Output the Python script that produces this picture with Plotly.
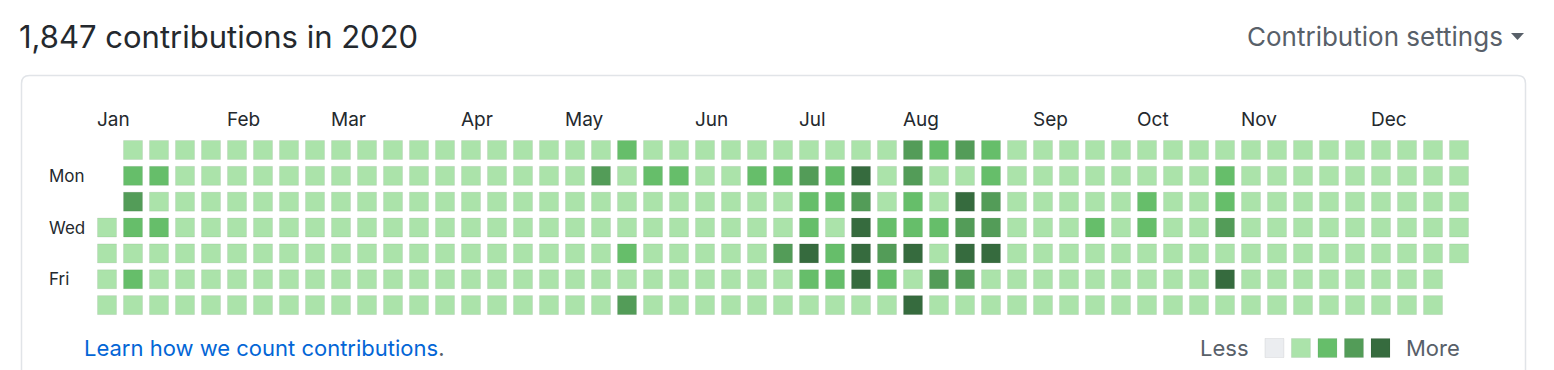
import plotly.graph_objects as go

W, H = 1554, 370

TITLE = "1,847 contributions in 2020"
SETTINGS = "Contribution settings"
LEARN = "Learn how we count contributions"
MONTHS = ["Jan", "Feb", "Mar", "Apr", "May", "Jun", "Jul", "Aug", "Sep", "Oct", "Nov", "Dec"]
MONTH_WEEK = [0, 5, 9, 14, 18, 23, 27, 31, 36, 40, 44, 49]
WEEKDAYS = ["Sun", "Mon", "Tue", "Wed", "Thu", "Fri", "Sat"]
WEEKDAY_SHOWN = ["Mon", "Wed", "Fri"]
LEVEL_COLORS = ["#ebedf0", "#abe3aa", "#66be6a", "#539c58", "#366b3e"]

# contribution level per week (53 columns), one string per weekday; "." = outside 2020
SUN = ".111111111" "1111111111" "2111111111" "1323211111" "1111111111" "111"
MON = ".221111111" "1111111113" "1221122324" "1311211111" "1112111111" "111"
TUE = ".311111111" "1111111111" "1111111223" "1214311111" "2112111111" "111"
WED = "1221111111" "1111111111" "1111111214" "2223311121" "2113111111" "111"
THU = "1111111111" "1111111111" "2111113424" "3414411111" "1111111111" "111"
FRI = "1211111111" "1111111111" "1111111224" "2133111111" "1114111111" "11."
SAT = "1111111111" "1111111111" "3111111111" "1411111111" "1111111111" "11."
ROWS = [SUN, MON, TUE, WED, THU, FRI, SAT]

# axis geometry: 1 week = 26 px, 1 weekday = 25.85 px
X0, DX = 107, 26.0
Y0, DY = 150, 25.85
xr = [(0 - X0) / DX, (W - X0) / DX]
yr = [(H - Y0) / DY, (0 - Y0) / DY]

def px(x):
    return x / W

def py(y):
    return 1 - y / H

xs, ys, cs, texts = [], [], [], []
for r, row in enumerate(ROWS):
    for c, ch in enumerate(row):
        if ch == ".":
            continue
        lv = int(ch)
        xs.append(c)
        ys.append(r)
        cs.append(LEVEL_COLORS[lv])
        texts.append(f"week {c + 1}, {WEEKDAYS[r]}: level {lv}")

fig = go.Figure()
fig.add_trace(go.Scatter(
    x=xs, y=ys, mode="markers", text=texts, hoverinfo="text",
    marker=dict(symbol="square", size=19, color=cs,
                line=dict(color="rgba(27,31,35,0.07)", width=1)),
    showlegend=False,
))

# legend squares (Less -> More)
leg_x = [44.9 + i * 1.02 for i in range(5)]
leg_y = [(348 - Y0) / DY] * 5
fig.add_trace(go.Scatter(
    x=leg_x, y=leg_y, mode="markers", hoverinfo="skip",
    marker=dict(symbol="square", size=19, color=LEVEL_COLORS,
                line=dict(color="rgba(27,31,35,0.07)", width=1)),
    showlegend=False,
))

FONT = "Inter, Roboto, 'Noto Sans', sans-serif"
ann = []
for m, wk in zip(MONTHS, MONTH_WEEK):
    ann.append(dict(x=wk - 0.47, y=(119 - Y0) / DY, xref="x", yref="y", text=m,
                    showarrow=False, xanchor="left", yanchor="middle",
                    font=dict(family=FONT, size=19, color="#24292e")))
for d in WEEKDAY_SHOWN:
    r = WEEKDAYS.index(d)
    ann.append(dict(x=(47 - X0) / DX, y=r, xref="x", yref="y", text=d,
                    showarrow=False, xanchor="left", yanchor="middle",
                    font=dict(family=FONT, size=17, color="#24292e")))
ann += [
    dict(x=px(17), y=py(37), xref="paper", yref="paper", text=TITLE, showarrow=False,
         xanchor="left", yanchor="middle", font=dict(family=FONT, size=31, color="#24292e")),
    dict(x=px(1505), y=py(37), xref="paper", yref="paper", text=SETTINGS, showarrow=False,
         xanchor="right", yanchor="middle", font=dict(family=FONT, size=26, color="#586069")),
    dict(x=px(82), y=py(348), xref="paper", yref="paper",
         text=f"<span style='color:#0366d6'>{LEARN}</span>.", showarrow=False,
         xanchor="left", yanchor="middle", font=dict(family=FONT, size=22, color="#586069")),
    dict(x=px(1251), y=py(348), xref="paper", yref="paper", text="Less", showarrow=False,
         xanchor="right", yanchor="middle", font=dict(family=FONT, size=22, color="#586069")),
    dict(x=px(1404), y=py(348), xref="paper", yref="paper", text="More", showarrow=False,
         xanchor="left", yanchor="middle", font=dict(family=FONT, size=22, color="#586069")),
]

# outer box with rounded top corners (bottom goes past the picture)
L, T, R, B, rad = 21.5, 75.5, 1525.5, 400, 8
box = (f"M {px(L)},{py(B)} L {px(L)},{py(T + rad)} "
       f"Q {px(L)},{py(T)} {px(L + rad)},{py(T)} "
       f"L {px(R - rad)},{py(T)} Q {px(R)},{py(T)} {px(R)},{py(T + rad)} "
       f"L {px(R)},{py(B)}")
tri = f"M {px(1511)},{py(33)} L {px(1524)},{py(33)} L {px(1517.5)},{py(40)} Z"
shapes = [
    dict(type="path", xref="paper", yref="paper", path=box,
         line=dict(color="#e1e4e8", width=1.5), fillcolor="rgba(0,0,0,0)", layer="below"),
    dict(type="path", xref="paper", yref="paper", path=tri,
         line=dict(width=0), fillcolor="#586069"),
]

fig.update_layout(
    width=W, height=H, margin=dict(l=0, r=0, t=0, b=0),
    paper_bgcolor="white", plot_bgcolor="white",
    xaxis=dict(range=xr, visible=False, fixedrange=True),
    yaxis=dict(range=yr, visible=False, fixedrange=True),
    annotations=ann, shapes=shapes, hovermode="closest",
)

fig.write_html("out.html", config={"displayModeBar": False},
               post_script="document.body.style.margin='0px';")
